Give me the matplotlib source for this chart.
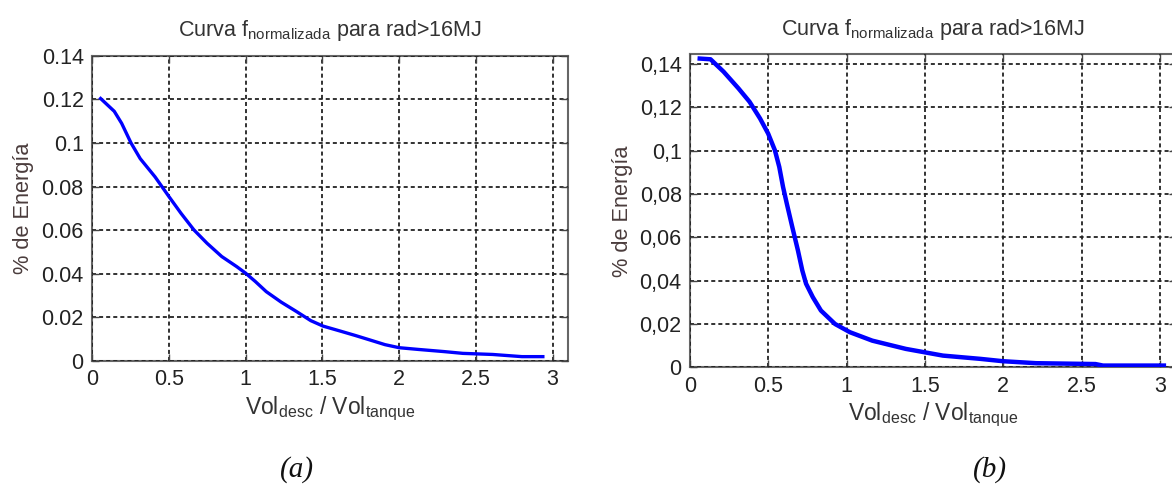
import matplotlib
matplotlib.use("Agg")
import matplotlib.pyplot as plt

plt.rcParams['font.family'] = ['Liberation Sans', 'DejaVu Sans']
plt.rcParams['mathtext.fontset'] = 'custom'
plt.rcParams['mathtext.rm'] = 'Liberation Sans'
plt.rcParams['mathtext.it'] = 'Liberation Sans:italic'
plt.rcParams['lines.scale_dashes'] = False

# ---- data ----
x_a = [0.048, 0.145, 0.193, 0.254, 0.314, 0.411, 0.502, 0.58, 0.664, 0.749, 0.845,
       0.942, 1.0, 1.063, 1.135, 1.232, 1.329, 1.425, 1.505, 1.618, 1.715, 1.812,
       1.908, 2.0, 2.126, 2.295, 2.415, 2.609, 2.8, 2.947]
y_a = [0.1209, 0.1145, 0.1090, 0.100, 0.0928, 0.0844, 0.0753, 0.0677, 0.0601, 0.054,
       0.0479, 0.0433, 0.0403, 0.0365, 0.0318, 0.0270, 0.0228, 0.0185, 0.016, 0.0137,
       0.0117, 0.0096, 0.0075, 0.0061, 0.0053, 0.0043, 0.0035, 0.003, 0.002, 0.002]

x_b = [0.048, 0.131, 0.214, 0.309, 0.38, 0.447, 0.499, 0.542, 0.57, 0.594, 0.618,
       0.653, 0.689, 0.717, 0.741, 0.784, 0.836, 0.926, 1.021, 1.164, 1.378, 1.615,
       1.853, 2.0, 2.209, 2.589, 2.637, 3.04]
y_b = [0.1426, 0.1422, 0.1365, 0.1288, 0.1226, 0.1149, 0.1079, 0.1002, 0.0925, 0.0833,
       0.0756, 0.0648, 0.054, 0.0447, 0.0386, 0.0324, 0.0262, 0.020, 0.0162, 0.0123,
       0.0085, 0.0054, 0.0039, 0.0028, 0.0019, 0.0015, 0.0008, 0.0008]

xticks = [0, 0.5, 1, 1.5, 2, 2.5, 3]
xtick_labels = ['0', '0.5', '1', '1.5', '2', '2.5', '3']
yticks = [0, 0.02, 0.04, 0.06, 0.08, 0.10, 0.12, 0.14]
ytick_labels_a = ['0', '0.02', '0.04', '0.06', '0.08', '0.1', '0.12', '0.14']
ytick_labels_b = ['0', '0,02', '0,04', '0,06', '0,08', '0,1', '0,12', '0,14']

title_txt = r'Curva f$_{\mathrm{normalizada}}$ para rad>16MJ'
xlabel_txt = r'Vol$_{\mathrm{desc}}$ / Vol$_{\mathrm{tanque}}$'
ylabel_txt = '% de Energía'

W, H = 1172, 498
fig = plt.figure(figsize=(W / 100, H / 100), dpi=100)
fig.patch.set_facecolor('white')

def px_axes(l, t, r, b):
    return [l / W, 1 - b / H, (r - l) / W, (b - t) / H]

ax_a = fig.add_axes(px_axes(92, 55.7, 568, 361))
ax_b = fig.add_axes(px_axes(690, 54.3, 1175.5, 367.3))

def style(ax, ylabels, ytop):
    ax.set_xlim(0, 3.1)
    ax.set_ylim(0, ytop)
    ax.set_xticks(xticks)
    ax.set_xticklabels(xtick_labels)
    ax.set_yticks(yticks)
    ax.set_yticklabels(ylabels)
    ax.tick_params(direction='in', length=5, width=1.0, colors='#444444',
                   labelcolor='#222222', labelsize=15.5, top=True, right=True, pad=6)
    for s in ax.spines.values():
        s.set_color('#666666')
        s.set_linewidth(1.5)
    ax.grid(True, color='#222222', linestyle=(0, (2.9, 2.2)), linewidth=1.3)
    ax.set_axisbelow(False)
    ax.set_xlabel(xlabel_txt, fontsize=16.5, color='#333333', labelpad=3)
    ax.set_ylabel(ylabel_txt, fontsize=15.7, color='#4a3c3c', labelpad=5)
    ax.set_title(title_txt, fontsize=15.5, color='#333333', pad=14)

ax_a.plot(x_a, y_a, color='#0000ff', linewidth=2.4, solid_capstyle='butt', zorder=3)
style(ax_a, ytick_labels_a, 0.14)
ax_b.plot(x_b, y_b, color='#0000ff', linewidth=3.2, solid_capstyle='butt', zorder=3)
style(ax_b, ytick_labels_b, 0.1445)

fig.text(297 / W, 1 - 470 / H, '(a)', family='Liberation Serif', style='italic',
         fontsize=21, ha='center', va='center', color='#111111')
fig.text(990 / W, 1 - 470 / H, '(b)', family='Liberation Serif', style='italic',
         fontsize=21, ha='center', va='center', color='#111111')

fig.savefig('out.png', dpi=100, facecolor='white')
